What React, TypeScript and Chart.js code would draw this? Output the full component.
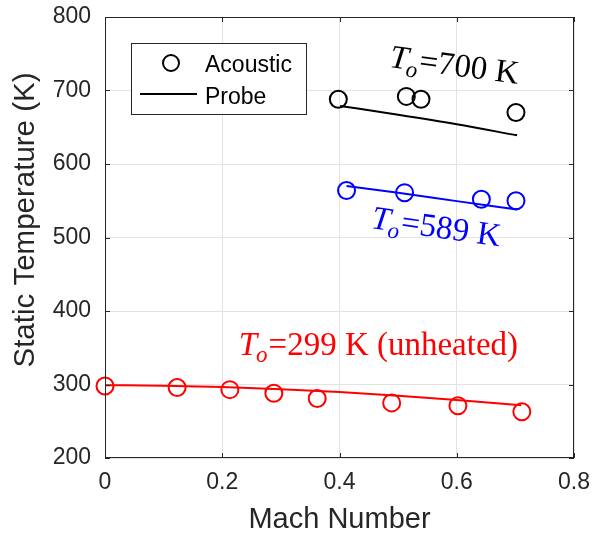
import React, { useEffect, useRef } from "react";
import { Chart, registerables } from "chart.js";

Chart.register(...registerables);

// ---- axis ticks ----
const xTickValues = [0, 0.2, 0.4, 0.6, 0.8];
const yTickValues = [200, 300, 400, 500, 600, 700, 800];

// ---- T0 = 299 K (unheated) ----
const coldAcousticMach = [0, 0.123, 0.213, 0.288, 0.362, 0.489, 0.602, 0.711];
const coldAcousticTemp = [298, 296, 293, 288, 281, 275, 271, 263];
const coldProbeMach = [0, 0.1, 0.2, 0.3, 0.4, 0.5, 0.6, 0.71];
const coldProbeTemp = [299, 298.4, 296.6, 293.7, 289.7, 284.8, 278.9, 271.8];

// ---- T0 = 589 K ----
const midAcousticMach = [0.412, 0.511, 0.642, 0.701];
const midAcousticTemp = [564, 561, 552, 550];
const midProbeMach = [0.412, 0.5, 0.6, 0.703];
const midProbeTemp = [570, 561, 549.5, 538];

// ---- T0 = 700 K ----
const hotAcousticMach = [0.398, 0.514, 0.539, 0.701];
const hotAcousticTemp = [688, 692, 688, 670];
const hotProbeMach = [0.401, 0.5, 0.6, 0.703];
const hotProbeTemp = [679, 667, 654, 639];

// ---- annotations ----
const noteLabels = ["=700 K", "=589 K", "=299 K (unheated)"];
const noteMach = [0.484, 0.453, 0.228];
const noteTemp = [732, 513, 340];
const noteColors = ["#000000", "#0000ff", "#ff0000"];
const noteAngles = [7.5, 8.2, 0];

const SANS = '"Liberation Sans", Arial, sans-serif';
const SERIF = '"Liberation Serif", "Times New Roman", serif';
const AXIS = "#262626";

const pts = (xs: number[], ys: number[]) => xs.map((x, i) => ({ x, y: ys[i] }));

const markerSet = (label: string, xs: number[], ys: number[], color: string) => ({
  label,
  data: pts(xs, ys),
  showLine: false,
  pointStyle: "circle",
  pointRadius: 8.5,
  pointBorderWidth: 2,
  pointBorderColor: color,
  pointBackgroundColor: "rgba(0,0,0,0)",
  borderColor: color,
  backgroundColor: "rgba(0,0,0,0)",
  clip: false as any,
});

const lineSet = (label: string, xs: number[], ys: number[], color: string) => ({
  label,
  data: pts(xs, ys),
  showLine: true,
  pointRadius: 0,
  borderColor: color,
  borderWidth: 2,
  tension: 0.4,
  cubicInterpolationMode: "monotone" as const,
  fill: false,
  clip: false as any,
});

const overlay = {
  id: "overlay",
  afterDatasetsDraw(chart: any) {
    const { ctx, chartArea: a } = chart;
    const xs = chart.scales.x;
    const ys = chart.scales.y;
    ctx.save();

    // axes box
    ctx.strokeStyle = AXIS;
    ctx.lineWidth = 1;
    ctx.strokeRect(a.left + 0.5, a.top + 0.5, a.right - a.left - 1, a.bottom - a.top - 1);

    // inward tick marks
    const tl = 5;
    ctx.beginPath();
    xTickValues.forEach((v) => {
      const px = Math.round(xs.getPixelForValue(v)) + 0.5;
      ctx.moveTo(px, a.bottom);
      ctx.lineTo(px, a.bottom - tl);
      ctx.moveTo(px, a.top);
      ctx.lineTo(px, a.top + tl);
    });
    yTickValues.forEach((v) => {
      const py = Math.round(ys.getPixelForValue(v)) + 0.5;
      ctx.moveTo(a.left, py);
      ctx.lineTo(a.left + tl, py);
      ctx.moveTo(a.right, py);
      ctx.lineTo(a.right - tl, py);
    });
    ctx.stroke();

    // legend
    const lx = a.left + 26;
    const ly = a.top + 26;
    ctx.fillStyle = "#ffffff";
    ctx.fillRect(lx, ly, 175, 71);
    ctx.strokeStyle = AXIS;
    ctx.lineWidth = 1;
    ctx.strokeRect(lx + 0.5, ly + 0.5, 175, 71);
    ctx.strokeStyle = "#000000";
    ctx.lineWidth = 2;
    ctx.beginPath();
    ctx.arc(lx + 40, ly + 20, 8, 0, Math.PI * 2);
    ctx.stroke();
    ctx.beginPath();
    ctx.moveTo(lx + 9, ly + 51);
    ctx.lineTo(lx + 66, ly + 51);
    ctx.stroke();
    ctx.fillStyle = "#000000";
    ctx.font = `23px ${SANS}`;
    ctx.textBaseline = "alphabetic";
    ctx.textAlign = "left";
    ctx.fillText("Acoustic", lx + 74, ly + 29);
    ctx.fillText("Probe", lx + 74, ly + 61);

    // annotations
    noteLabels.forEach((txt, i) => {
      const px = xs.getPixelForValue(noteMach[i]);
      const py = ys.getPixelForValue(noteTemp[i]);
      ctx.save();
      ctx.translate(px, py);
      ctx.rotate((noteAngles[i] * Math.PI) / 180);
      ctx.fillStyle = noteColors[i];
      ctx.textAlign = "left";
      ctx.textBaseline = "alphabetic";
      ctx.font = `italic 33px ${SERIF}`;
      ctx.fillText("T", 0, 0);
      let off = ctx.measureText("T").width - 1;
      ctx.font = `italic 23px ${SERIF}`;
      ctx.fillText("o", off, 7);
      off += ctx.measureText("o").width + 1;
      ctx.font = `33px ${SERIF}`;
      ctx.fillText(txt, off, 0);
      ctx.restore();
    });

    // axis titles
    ctx.fillStyle = AXIS;
    ctx.textAlign = "center";
    ctx.textBaseline = "alphabetic";
    ctx.font = `29px ${SANS}`;
    ctx.fillText("Mach Number", (a.left + a.right) / 2, 528);
    ctx.save();
    ctx.translate(34, 220);
    ctx.rotate(-Math.PI / 2);
    ctx.font = `29.5px ${SANS}`;
    ctx.fillText("Static Temperature (K)", 0, 0);
    ctx.restore();

    ctx.restore();
  },
};

export default function App() {
  const ref = useRef<HTMLCanvasElement>(null);

  useEffect(() => {
    if (!ref.current) return;
    const chart = new Chart(ref.current, {
      type: "scatter",
      data: {
        datasets: [
          lineSet("Probe 299", coldProbeMach, coldProbeTemp, "#ff0000"),
          markerSet("Acoustic 299", coldAcousticMach, coldAcousticTemp, "#ff0000"),
          lineSet("Probe 589", midProbeMach, midProbeTemp, "#0000ff"),
          markerSet("Acoustic 589", midAcousticMach, midAcousticTemp, "#0000ff"),
          lineSet("Probe 700", hotProbeMach, hotProbeTemp, "#000000"),
          markerSet("Acoustic 700", hotAcousticMach, hotAcousticTemp, "#000000"),
        ] as any,
      },
      options: {
        animation: false,
        responsive: false,
        devicePixelRatio: 1,
        layout: { padding: 0 },
        plugins: { legend: { display: false }, tooltip: { enabled: false } },
        scales: {
          x: {
            type: "linear",
            min: 0,
            max: 0.8,
            afterBuildTicks: (s: any) => {
              s.ticks = xTickValues.map((v) => ({ value: v }));
            },
            afterFit: (s: any) => {
              s.height = 75;
              s.paddingLeft = 0;
              s.paddingRight = 18;
            },
            ticks: {
              color: AXIS,
              font: { family: SANS, size: 23 },
              padding: 11,
              maxRotation: 0,
              autoSkip: false,
              callback: (v: any) => String(Math.round(Number(v) * 10) / 10),
            },
            grid: { color: "#e3e3e3", lineWidth: 1, drawTicks: false },
            border: { display: false },
          },
          y: {
            type: "linear",
            min: 200,
            max: 800,
            afterBuildTicks: (s: any) => {
              s.ticks = yTickValues.map((v) => ({ value: v }));
            },
            afterFit: (s: any) => {
              s.width = 105;
              s.paddingTop = 17;
              s.paddingBottom = 0;
            },
            ticks: {
              color: AXIS,
              font: { family: SANS, size: 23 },
              padding: 14,
              autoSkip: false,
            },
            grid: { color: "#e3e3e3", lineWidth: 1, drawTicks: false },
            border: { display: false },
          },
        },
      },
      plugins: [overlay],
    });
    return () => chart.destroy();
  }, []);

  return (
    <div style={{ position: "absolute", left: 0, top: 0, width: 592, height: 533, background: "#fff" }}>
      <canvas ref={ref} width={592} height={533} style={{ display: "block" }} />
    </div>
  );
}
